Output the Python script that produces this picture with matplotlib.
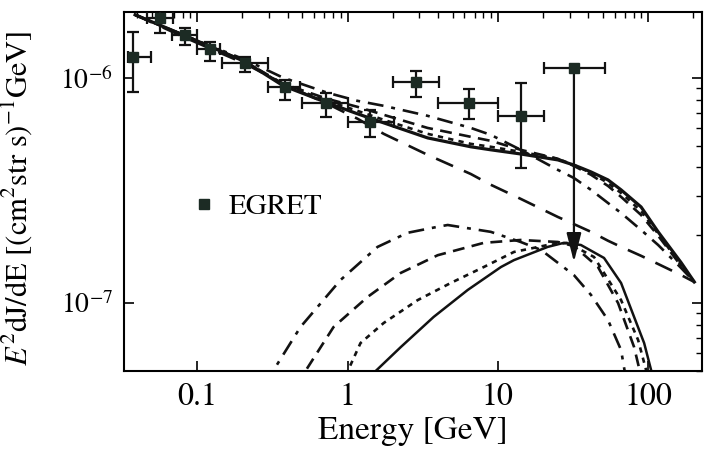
import matplotlib
matplotlib.use("Agg")
import matplotlib.pyplot as plt
from matplotlib.lines import Line2D

plt.rcParams['font.family'] = ['STIXGeneral', 'DejaVu Serif']
plt.rcParams['mathtext.fontset'] = 'stix'

# EGRET data points (energy in GeV, flux E^2 dJ/dE)
egret_e = [0.0374, 0.0567, 0.0832, 0.122, 0.209, 0.386, 0.714, 1.42, 2.84, 6.41, 14.2]
egret_elo = [0.0347, 0.0464, 0.0681, 0.100, 0.1468, 0.297, 0.501, 1.00, 1.995, 3.98, 10.0]
egret_ehi = [0.0493, 0.0692, 0.100, 0.1424, 0.297, 0.486, 1.00, 2.03, 4.04, 10.0, 20.3]
egret_f = [1.24e-6, 1.85e-6, 1.553e-6, 1.345e-6, 1.167e-6, 9.12e-7, 7.74e-7, 6.37e-7, 9.6e-7, 7.74e-7, 6.78e-7]
egret_flo = [8.66e-7, 1.585e-6, 1.40e-6, 1.19e-6, 1.064e-6, 7.98e-7, 6.71e-7, 5.47e-7, 8.24e-7, 6.58e-7, 3.98e-7]
egret_fhi = [1.60e-6, 2.11e-6, 1.668e-6, 1.445e-6, 1.24e-6, 9.8e-7, 8.58e-7, 7.21e-7, 1.075e-6, 8.94e-7, 9.5e-7]

# upper limit point
ul_e, ul_elo, ul_ehi = 32.1, 20.3, 51.7
ul_f, ul_tip = 1.108e-6, 1.52e-7

# totals (background + signal) on a common energy grid
tot_e = [0.0386, 0.0832, 0.209, 0.374, 0.736, 1.166, 1.74, 3.41, 6.61, 8.98,
         14.2, 25.1, 32.1, 41.7, 54.1, 66.1, 89.8, 116.6, 166, 203]
bg_f = [1.905e-6, 1.507e-6, 1.154e-6, 9.40e-7, 7.66e-7, 6.58e-7, 5.64e-7, 4.55e-7, 3.74e-7, 3.35e-7,
        2.90e-7, 2.41e-7, 2.24e-7, 2.07e-7, 1.89e-7, 1.775e-7, 1.62e-7, 1.49e-7, 1.33e-7, 1.24e-7]
solid_tot = [1.905e-6, 1.537e-6, 1.178e-6, 9.21e-7, 7.74e-7, 6.92e-7, 6.31e-7, 5.41e-7, 4.94e-7, 4.79e-7,
             4.59e-7, 4.32e-7, 4.10e-7, 3.82e-7, 3.52e-7, 3.18e-7, 2.67e-7, 2.07e-7, 1.51e-7, 1.24e-7]
dashdot_tot = [1.905e-6, 1.537e-6, 1.202e-6, 1.0e-6, 8.58e-7, 7.90e-7, 7.51e-7, 6.78e-7, 5.99e-7, 5.58e-7,
               4.79e-7, 3.90e-7, 3.59e-7, 3.18e-7, 2.78e-7, 2.51e-7, 2.11e-7, 1.81e-7, 1.43e-7, 1.24e-7]
dashed_tot = [1.905e-6, 1.537e-6, 1.178e-6, 9.40e-7, 8.06e-7, 7.43e-7, 6.85e-7, 5.99e-7, 5.47e-7, 5.25e-7,
              4.79e-7, 4.37e-7, 4.06e-7, 3.71e-7, 3.31e-7, 2.96e-7, 2.46e-7, 1.99e-7, 1.46e-7, 1.24e-7]
dotted_tot = [1.905e-6, 1.537e-6, 1.178e-6, 9.31e-7, 7.90e-7, 7.13e-7, 6.51e-7, 5.64e-7, 5.09e-7, 4.94e-7,
              4.69e-7, 4.37e-7, 4.10e-7, 3.78e-7, 3.41e-7, 3.08e-7, 2.56e-7, 2.03e-7, 1.47e-7, 1.24e-7]

# signal bumps
dd_e = [0.28, 0.486, 0.898, 1.585, 2.51, 3.98, 4.64, 8.98, 14.2, 19.4, 32.1, 41.7, 54.1, 66.1, 72.4]
dd_f = [4.33e-8, 7.82e-8, 1.265e-7, 1.775e-7, 2.05e-7, 2.18e-7, 2.22e-7, 2.07e-7,
        1.866e-7, 1.72e-7, 1.33e-7, 1.086e-7, 8.4e-8, 6.18e-8, 4.33e-8]
da_e = [0.457, 0.525, 0.807, 1.36, 2.26, 3.98, 8.07, 14.2, 25.1, 32.1, 46.4, 63.1, 80.7, 92.6]
da_f = [4.33e-8, 4.99e-8, 7.82e-8, 1.064e-7, 1.36e-7, 1.63e-7, 1.85e-7, 1.905e-7, 1.866e-7,
        1.79e-7, 1.445e-7, 1.0e-7, 6.37e-8, 4.33e-8]
do_e = [0.912, 1.22, 1.74, 2.93, 4.86, 8.07, 12.8, 21.5, 29.3, 43.7, 66.1, 85.8, 103]
do_f = [4.33e-8, 6.64e-8, 8.15e-8, 1.03e-7, 1.227e-7, 1.445e-7, 1.685e-7, 1.81e-7, 1.85e-7,
        1.60e-7, 1.03e-7, 6.85e-8, 4.33e-8]
so_e = [1.24, 1.54, 2.26, 3.74, 6.31, 10.5, 12.8, 21.5, 27.5, 35.7, 50.9, 66.1, 80.7, 94.1, 104.7, 108]
so_f = [4.33e-8, 4.99e-8, 6.37e-8, 8.67e-8, 1.143e-7, 1.445e-7, 1.55e-7, 1.775e-7, 1.85e-7,
        1.81e-7, 1.585e-7, 1.227e-7, 8.67e-8, 6.64e-8, 5.04e-8, 4.33e-8]

ls_dashdot = (0, (6, 3, 1.5, 3))
ls_dashed = (0, (4.5, 2.8))
ls_dotted = (0, (2, 2))
ls_bg = (0, (7, 4.5))
lc = '#121212'
mc = '#1c2b24'
lw = 1.9

fig = plt.figure(figsize=(7.05, 4.67), dpi=100)
ax = fig.add_axes([0.176, 0.2056, 0.82, 0.7687])

# background and totals
ax.plot(tot_e, bg_f, color=lc, lw=lw, ls=ls_bg)
ax.plot(tot_e, dashdot_tot, color=lc, lw=lw, ls=ls_dashdot)
ax.plot(tot_e, dashed_tot, color=lc, lw=lw, ls=ls_dashed)
ax.plot(tot_e, dotted_tot, color=lc, lw=lw, ls=ls_dotted)
ax.plot(tot_e, solid_tot, color=lc, lw=2.3, ls='-')

# signal components
ax.plot(dd_e, dd_f, color=lc, lw=lw, ls=ls_dashdot)
ax.plot(da_e, da_f, color=lc, lw=lw, ls=ls_dashed)
ax.plot(do_e, do_f, color=lc, lw=lw, ls=ls_dotted)
ax.plot(so_e, so_f, color=lc, lw=1.8, ls='-')

# EGRET points
xerr = [[c - l for c, l in zip(egret_e, egret_elo)], [h - c for c, h in zip(egret_e, egret_ehi)]]
yerr = [[c - l for c, l in zip(egret_f, egret_flo)], [h - c for c, h in zip(egret_f, egret_fhi)]]
ax.errorbar(egret_e, egret_f, xerr=xerr, yerr=yerr, fmt='s', color=mc,
            ecolor=lc, ms=7, elinewidth=1.6, capsize=4, capthick=1.6, zorder=5)
ax.errorbar([ul_e], [ul_f], xerr=[[ul_e - ul_elo], [ul_ehi - ul_e]], fmt='s', color=mc,
            ecolor=lc, ms=7, elinewidth=1.6, capsize=4, capthick=1.6, zorder=5)
ax.annotate('', xy=(ul_e, ul_tip), xytext=(ul_e, ul_f),
            arrowprops=dict(arrowstyle='-|>,head_length=1.1,head_width=0.28',
                            mutation_scale=16, lw=1.6, color=lc, shrinkA=0, shrinkB=0))

ax.set_xscale('log')
ax.set_yscale('log')
ax.set_xlim(0.0326, 229)
ax.set_ylim(4.99e-8, 1.96e-6)

ax.set_xticks([0.1, 1, 10, 100])
ax.set_xticklabels(['0.1', '1', '10', '100'])
ax.set_yticks([1e-7, 1e-6])
ax.set_yticklabels([r'$10^{-7}$', r'$10^{-6}$'])

ax.tick_params(which='both', direction='in', top=True, right=True)
ax.tick_params(axis='x', which='major', labelsize=23, pad=8)
ax.tick_params(axis='y', which='major', labelsize=20, pad=8)
ax.tick_params(which='major', length=7, width=1.2)
ax.tick_params(which='minor', length=4, width=1.0, bottom=False, left=False)
ax.tick_params(axis='x', which='minor', labelbottom=False)
ax.tick_params(axis='y', which='minor', labelleft=False)
for s in ax.spines.values():
    s.set_linewidth(1.5)

ax.set_xlabel('Energy [GeV]', fontsize=24, labelpad=4)
ax.set_ylabel(r'$E^2$dJ/dE [(cm$^2$str s)$^{-1}$GeV]', fontsize=22)
ax.yaxis.set_label_coords(-0.155, 0.48)

handle = Line2D([], [], ls='none', marker='s', color=mc, ms=7)
ax.legend([handle], ['EGRET'], loc='center left', bbox_to_anchor=(0.062, 0.457),
          frameon=False, fontsize=21, handletextpad=0.25, handlelength=1.2)

fig.savefig('out.png', dpi=100, facecolor='white')
